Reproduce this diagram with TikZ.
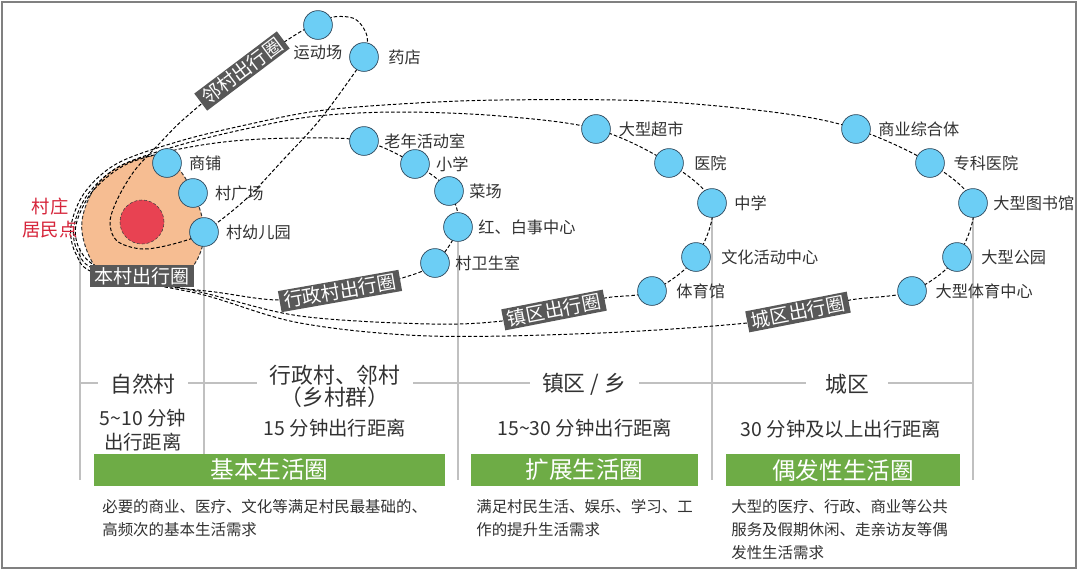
\documentclass[tikz,border=0pt]{standalone}
\usepackage{fontspec}
\setmainfont{Noto Sans CJK SC}
\usetikzlibrary{positioning, backgrounds}

\definecolor{spotblue}{RGB}{108,206,245}
\definecolor{spotedge}{RGB}{45,70,90}
\definecolor{blobpeach}{RGB}{246,189,146}
\definecolor{corered}{RGB}{232,66,82}
\definecolor{taggray}{RGB}{88,88,88}
\definecolor{bargreen}{RGB}{110,172,70}
\definecolor{guidegray}{RGB}{192,192,192}
\definecolor{txtgray}{RGB}{50,50,50}
\definecolor{redtxt}{RGB}{214,36,58}

\begin{document}
\begin{tikzpicture}[x=0.025cm, y=-0.025cm,
        spot/.style={circle, draw=spotedge, line width=0.5pt, fill=spotblue, minimum size=0.72cm, inner sep=0pt},
        lbl/.style={font=\fontsize{11.5}{13}\selectfont, text=txtgray, inner sep=1pt},
        tag/.style={fill=taggray, text=white, font=\fontsize{13.5}{14}\selectfont, inner xsep=3pt, inner ysep=0.8pt, text height=11.9pt, text depth=1.7pt},
        ring/.style={line width=0.7pt, dash pattern=on 2.5pt off 1.5pt},
        guide/.style={guidegray, line width=1pt},
        zone/.style={fill=white, text=txtgray, font=\fontsize{15.5}{17}\selectfont, inner xsep=9pt, align=center},
        reach/.style={text=txtgray, font=\fontsize{13.8}{17}\selectfont, align=center},
        bar/.style={fill=bargreen, text=white, font=\fontsize{16.8}{18}\selectfont, minimum height=0.8cm, inner sep=0pt},
        note/.style={text=txtgray, font=\fontsize{11}{16.3}\selectfont, align=left, anchor=north west, inner sep=0pt}
    ]
    \useasboundingbox (0,0) rectangle (1080,575);
    \draw[gray, line width=0.8pt] (2,2) rectangle (1076,568);

    % village core
    \node[circle, fill=corered, draw=black!75, dash pattern=on 2pt off 1.5pt, minimum size=1.1cm] (core) at (142,222) {};
    \node[text=redtxt, font=\fontsize{13}{16.3}\selectfont, align=center] (home) at (50,218) {村庄\\居民点};

    % facilities
    \node[spot] (shop) at (167,163) {};
    \node[spot] (square) at (193,193) {};
    \node[spot] (kinder) at (204,232) {};
    \node[spot] (sport) at (318,25) {};
    \node[spot] (pharm) at (364,57) {};
    \node[spot] (oldage) at (364,141) {};
    \node[spot] (school) at (415,164) {};
    \node[spot] (market) at (449,191) {};
    \node[spot] (hongbai) at (458,227) {};
    \node[spot] (clinic) at (435,263) {};
    \node[spot] (supermkt) at (596,129) {};
    \node[spot] (hospital) at (669,163) {};
    \node[spot] (middle) at (712,203) {};
    \node[spot] (culture) at (696,257) {};
    \node[spot] (gym) at (652,291) {};
    \node[spot] (commerce) at (856,129) {};
    \node[spot] (specialist) at (930,163) {};
    \node[spot] (library) at (973,203) {};
    \node[spot] (park) at (957,257) {};
    \node[spot] (bigsport) at (912,291) {};

    \node[lbl, right=0.14cm of shop] {商铺};
    \node[lbl, right=0.14cm of square] {村广场};
    \node[lbl, right=0.14cm of kinder] {村幼儿园};
    \node[lbl, below=0.08cm of sport] {运动场};
    \node[lbl, right=0.2cm of pharm] {药店};
    \node[lbl, right=0.1cm of oldage] {老年活动室};
    \node[lbl, right=0.12cm of school] {小学};
    \node[lbl, right=0.1cm of market] {菜场};
    \node[lbl, right=0.1cm of hongbai] {红、白事中心};
    \node[lbl, right=0.1cm of clinic] {村卫生室};
    \node[lbl, right=0.16cm of supermkt] {大型超市};
    \node[lbl, right=0.22cm of hospital] {医院};
    \node[lbl, right=0.15cm of middle] {中学};
    \node[lbl, right=0.22cm of culture] {文化活动中心};
    \node[lbl, right=0.2cm of gym] {体育馆};
    \node[lbl, right=0.15cm of commerce] {商业综合体};
    \node[lbl, right=0.18cm of specialist] {专科医院};
    \node[lbl, right=0.1cm of library] {大型图书馆};
    \node[lbl, right=0.2cm of park] {大型公园};
    \node[lbl, right=0.18cm of bigsport] {大型体育中心};

    % travel circles
    \node[tag] (tagown) at (142,276) {本村出行圈};
    \node[tag, rotate=37] (tagnear) at (242,71) {邻村出行圈};
    \node[tag, rotate=10] (tagadmin) at (340,291) {行政村出行圈};
    \node[tag, rotate=11] (tagtown) at (554,310) {镇区出行圈};
    \node[tag, rotate=11] (tagcity) at (798,312) {城区出行圈};

    % lower table
    \node[zone] (zvil) at (143,384) {自然村};
    \node[zone, font=\fontsize{15.5}{13}\selectfont] (zadm) at (335,386) {行政村、邻村\\（乡村群）};
    \node[zone] (ztown) at (584,384) {镇区 / 乡};
    \node[zone, inner xsep=14pt] (zcity) at (847,384) {城区};

    \node[reach] (rvil) at (143,430) {5\textasciitilde10 分钟\\出行距离};
    \node[reach] (radm) at (335,428) {15 分钟出行距离};
    \node[reach] (rtown) at (585,428) {15\textasciitilde30 分钟出行距离};
    \node[reach] (rcity) at (841,429) {30 分钟及以上出行距离};

    \node[bar, minimum width=8.775cm] (bar1) at (269.5,470) {基本生活圈};
    \node[bar, minimum width=5.675cm] (bar2) at (584.5,470) {扩展生活圈};
    \node[bar, minimum width=5.85cm] (bar3) at (843,470) {偶发性生活圈};

    \node[note] at (102,499) {必要的商业、医疗、文化等满足村民最基础的、\\高频次的基本生活需求};
    \node[note] at (476,499) {满足村民生活、娱乐、学习、工\\作的提升生活需求};
    \node[note] at (731,499) {大型的医疗、行政、商业等公共\\服务及假期休闲、走亲访友等偶\\发性生活需求};

    \begin{scope}[on background layer]
        \fill[white] (0,0) rectangle (1080,575);
        % guide lines
        \coordinate (vil) at (80,248);
        \coordinate (axis) at (80,383);
        \draw[guide] (vil) -- (80,480);
        \draw[guide] (kinder.south) -- (kinder.south |- bar1.north);
        \draw[guide] (hongbai.south) -- (hongbai.south |- 0,480);
        \draw[guide] (middle.south) -- (middle.south |- 0,480);
        \draw[guide] (library.south) -- (library.south |- 0,480);
        \draw[guide] (axis) -- (library |- axis);

        % own village
        \filldraw[fill=blobpeach, draw=black!80, ring] plot[smooth cycle, tension=0.6] coordinates {(82,232) (90,196) (112,171) (145,157) (170,160) (192,190) (204,228) (198,258) (180,276) (140,284) (100,272)};
        % neighbour village
        \draw[ring] plot[smooth cycle, tension=0.55] coordinates {(kinder) (245,200) (283,160) (318,122) (348,82) (pharm) (367,36) (355,19) (333,17) (sport) (300,32) (tagnear) (185,118) (160,143) (135,170) (118,198) (110,222) (117,241) (143,249) (177,243)};
        % administrative village
        \draw[ring] plot[smooth cycle, tension=0.55] coordinates {(oldage) (school) (market) (hongbai) (clinic) (402,278) (tagadmin) (280,300) (215,292) (160,285) (100,268) (80,250) (76,225) (92,192) (125,165) (175,150) (233,141) (300,138)};
        % town
        \draw[ring] plot[smooth cycle, tension=0.55] coordinates {(supermkt) (hospital) (middle) (culture) (gym) (605,298) (tagtown) (502,321) (430,324) (300,316) (200,292) (100,271) (78,252) (74,226) (88,194) (120,166) (180,145) (250,128) (317,116) (400,112) (500,116)};
        % city
        \draw[ring] plot[smooth cycle, tension=0.55] coordinates {(commerce) (specialist) (library) (park) (bigsport) (850,300) (tagcity) (747,323) (600,333) (430,336) (300,323) (200,294) (98,274) (76,254) (71,226) (85,192) (118,163) (180,141) (250,124) (317,111) (400,104) (500,100) (650,101) (780,113)};
    \end{scope}
\end{tikzpicture}
\end{document}
